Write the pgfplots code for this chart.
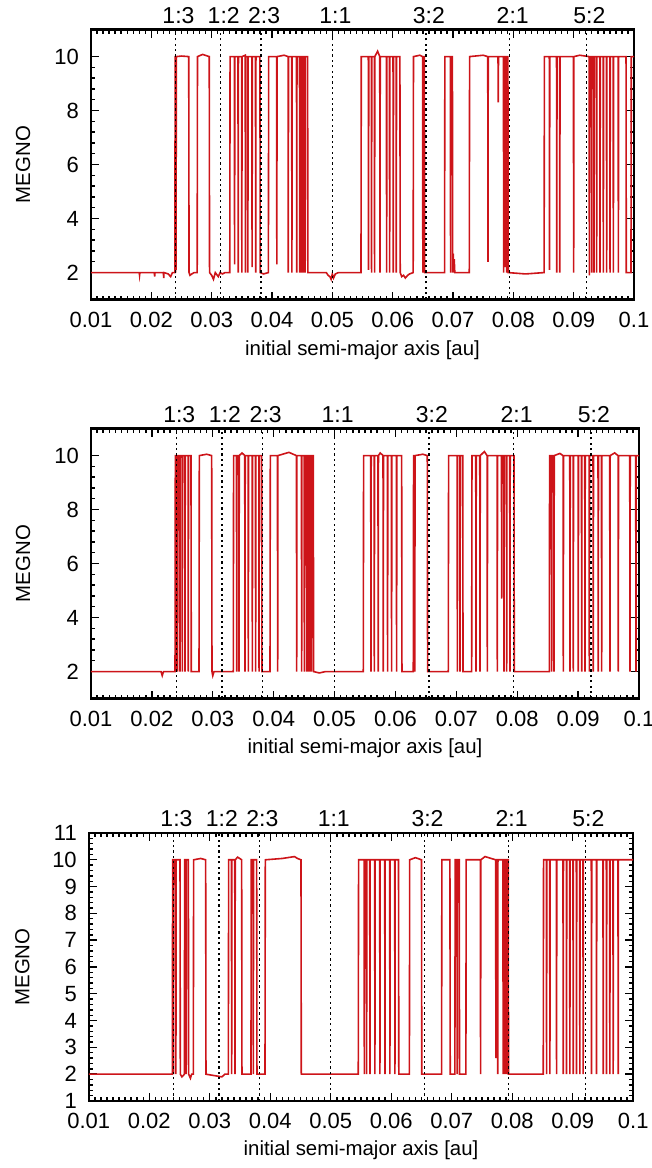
\documentclass[border=0pt]{standalone}
\usepackage{fontspec}
\setmainfont{Liberation Sans}
\usepackage{pgfplots}
\usepackage{pgfplotstable}
\pgfplotsset{compat=1.18}
\definecolor{megred}{RGB}{205,20,25}

\pgfplotstableread{
x y
0.01000 2.00
0.01500 2.00
0.01800 2.00
0.01805 1.90
0.01810 2.00
0.02050 2.00
0.02055 1.85
0.02060 2.00
0.02200 2.00
0.02205 1.80
0.02210 2.00
0.02280 1.95
0.02320 1.85
0.02350 2.00
0.02390 2.00
0.02395 10.00
0.02396 10.00
0.02400 2.00
0.02404 10.00
0.02406 10.00
0.02410 2.10
0.02414 10.00
0.02500 10.02
0.02620 10.00
0.02625 2.00
0.02640 1.90
0.02670 1.95
0.02710 2.00
0.02760 2.00
0.02765 10.00
0.02850 10.08
0.02960 10.00
0.02965 2.00
0.03000 1.90
0.03030 1.75
0.03060 2.00
0.03110 1.85
0.03140 2.00
0.03180 1.95
0.03220 2.00
0.03300 2.00
0.03305 10.00
0.03376 10.00
0.03380 2.30
0.03384 10.00
0.03436 10.00
0.03440 2.00
0.03444 10.00
0.03496 10.00
0.03500 2.00
0.03504 10.00
0.03556 10.05
0.03560 2.00
0.03564 10.00
0.03596 10.00
0.03600 2.00
0.03604 10.00
0.03666 10.00
0.03670 2.20
0.03674 10.00
0.03726 10.00
0.03730 2.00
0.03734 10.00
0.03800 10.00
0.03805 2.00
0.03860 1.95
0.03940 2.00
0.03945 10.00
0.04076 10.00
0.04080 2.30
0.04084 10.00
0.04200 10.05
0.04266 10.00
0.04270 2.00
0.04274 10.00
0.04326 10.00
0.04330 2.00
0.04334 10.00
0.04406 10.00
0.04410 2.00
0.04414 10.00
0.04456 10.00
0.04460 2.00
0.04464 10.00
0.04486 10.00
0.04490 2.00
0.04494 10.00
0.04516 10.00
0.04520 2.00
0.04524 10.00
0.04546 10.00
0.04550 2.00
0.04554 10.00
0.04590 10.00
0.04595 2.00
0.04700 2.00
0.04900 2.00
0.04930 1.90
0.04960 1.85
0.04980 1.75
0.05000 1.95
0.05020 1.80
0.05050 1.95
0.05100 2.00
0.05475 2.00
0.05480 10.00
0.05596 10.00
0.05600 2.10
0.05604 10.00
0.05646 10.00
0.05650 2.00
0.05654 10.00
0.05696 10.00
0.05700 2.00
0.05704 10.00
0.05750 10.20
0.05786 10.00
0.05790 2.00
0.05794 10.00
0.05896 10.00
0.05900 2.00
0.05904 10.00
0.05946 10.00
0.05950 2.00
0.05954 10.00
0.06006 10.00
0.06010 2.00
0.06014 10.00
0.06056 10.00
0.06060 2.00
0.06064 10.00
0.06120 10.00
0.06125 2.00
0.06150 1.85
0.06180 1.90
0.06210 1.80
0.06250 1.90
0.06280 1.95
0.06340 2.00
0.06345 10.00
0.06450 10.05
0.06496 10.00
0.06500 2.00
0.06504 10.00
0.06525 10.00
0.06530 2.00
0.06860 2.00
0.06865 10.00
0.06956 10.00
0.06960 2.00
0.06964 10.00
0.06990 10.00
0.06995 2.00
0.07005 2.70
0.07010 2.00
0.07020 2.50
0.07030 2.00
0.07270 2.00
0.07275 10.00
0.07500 10.05
0.07576 10.00
0.07580 2.40
0.07584 10.00
0.07746 10.00
0.07750 8.30
0.07754 10.00
0.07836 10.00
0.07840 2.00
0.07844 10.00
0.07866 10.00
0.07870 2.20
0.07874 10.00
0.07886 10.00
0.07890 2.00
0.07894 10.00
0.07910 10.00
0.07915 2.00
0.08200 1.95
0.08510 2.00
0.08515 10.00
0.08596 10.00
0.08600 2.10
0.08604 10.00
0.08716 10.00
0.08720 2.00
0.08724 10.00
0.08766 10.00
0.08770 2.00
0.08774 10.00
0.08996 10.00
0.09000 2.00
0.09004 10.00
0.09100 10.05
0.09256 10.00
0.09260 1.90
0.09264 10.00
0.09295 10.00
0.09299 2.00
0.09303 10.00
0.09333 10.00
0.09337 2.00
0.09341 10.00
0.09377 10.00
0.09381 2.00
0.09385 10.00
0.09433 10.00
0.09437 2.00
0.09441 10.00
0.09488 10.00
0.09492 2.00
0.09496 10.00
0.09543 10.00
0.09547 2.00
0.09551 10.00
0.09599 10.00
0.09603 2.00
0.09607 10.00
0.09654 10.00
0.09658 2.00
0.09662 10.00
0.09737 10.00
0.09741 2.00
0.09745 10.00
0.09868 10.00
0.09872 2.00
0.09950 2.00
0.09955 10.00
0.10000 10.00
}\dataA

\pgfplotstableread{
x y
0.01000 2.00
0.02150 2.00
0.02170 1.85
0.02190 2.00
0.02380 2.00
0.02385 10.00
0.02396 10.00
0.02400 2.00
0.02404 10.00
0.02419 10.00
0.02423 2.00
0.02427 10.00
0.02457 10.00
0.02461 2.00
0.02465 10.00
0.02496 10.00
0.02500 2.00
0.02504 10.00
0.02540 10.00
0.02544 2.00
0.02548 10.00
0.02594 10.00
0.02598 2.00
0.02602 10.00
0.02642 10.00
0.02647 2.00
0.02774 2.00
0.02779 10.00
0.02900 10.05
0.02982 10.00
0.02987 2.00
0.03000 1.85
0.03020 2.00
0.03337 2.00
0.03342 10.00
0.03389 10.00
0.03393 2.00
0.03397 10.00
0.03427 10.00
0.03431 2.00
0.03435 10.00
0.03480 10.10
0.03525 10.00
0.03529 2.00
0.03533 10.00
0.03580 10.00
0.03584 2.00
0.03588 10.00
0.03646 10.00
0.03650 2.00
0.03654 10.00
0.03700 10.00
0.03704 2.00
0.03708 10.00
0.03756 10.00
0.03760 2.00
0.03764 10.00
0.03803 10.00
0.03808 2.00
0.03940 2.00
0.03945 10.00
0.04062 10.00
0.04066 2.00
0.04070 10.00
0.04250 10.12
0.04374 10.00
0.04378 2.00
0.04382 10.00
0.04456 10.00
0.04460 2.00
0.04464 10.00
0.04500 10.00
0.04504 2.00
0.04508 10.00
0.04538 10.00
0.04542 2.00
0.04546 10.00
0.04566 10.00
0.04570 2.00
0.04574 10.00
0.04593 10.00
0.04597 2.00
0.04601 10.00
0.04620 10.00
0.04624 2.00
0.04628 10.00
0.04651 10.00
0.04656 2.00
0.04750 1.95
0.04850 2.00
0.05472 2.00
0.05477 10.00
0.05594 10.00
0.05598 2.00
0.05602 10.00
0.05649 10.00
0.05653 2.00
0.05657 10.00
0.05713 10.00
0.05717 2.00
0.05721 10.00
0.05750 10.10
0.05796 10.00
0.05800 2.00
0.05804 10.00
0.05867 10.00
0.05871 2.00
0.05875 10.00
0.05933 10.00
0.05937 2.00
0.05941 10.00
0.06015 10.00
0.06019 2.00
0.06023 10.00
0.06102 10.00
0.06107 2.00
0.06293 2.00
0.06298 10.00
0.06314 10.00
0.06318 2.00
0.06322 10.00
0.06450 10.05
0.06523 10.00
0.06528 2.00
0.06868 2.00
0.06873 10.00
0.07013 10.00
0.07017 2.00
0.07021 10.00
0.07057 10.00
0.07061 2.00
0.07065 10.00
0.07105 10.00
0.07110 2.00
0.07252 2.00
0.07257 10.00
0.07319 10.00
0.07323 2.00
0.07327 10.00
0.07385 10.00
0.07389 2.00
0.07393 10.00
0.07460 10.15
0.07505 10.00
0.07509 2.00
0.07513 10.00
0.07669 10.00
0.07673 2.00
0.07677 10.00
0.07741 10.00
0.07745 4.70
0.07749 10.00
0.07779 10.00
0.07783 2.00
0.07787 10.00
0.07823 10.00
0.07827 2.00
0.07831 10.00
0.07877 10.00
0.07881 2.00
0.07885 10.00
0.07947 10.00
0.07952 2.00
0.08527 2.00
0.08532 10.00
0.08562 10.00
0.08566 2.00
0.08570 10.00
0.08600 10.00
0.08604 2.00
0.08608 10.00
0.08700 10.08
0.08753 10.00
0.08757 2.00
0.08761 10.00
0.08863 10.00
0.08867 2.00
0.08871 10.00
0.08917 10.00
0.08921 2.00
0.08925 10.00
0.08999 10.00
0.09003 2.00
0.09007 10.00
0.09055 10.00
0.09059 2.00
0.09063 10.00
0.09109 10.00
0.09113 2.00
0.09117 10.00
0.09180 10.00
0.09184 2.00
0.09188 10.00
0.09245 10.00
0.09249 2.00
0.09253 10.00
0.09327 10.00
0.09331 2.00
0.09335 10.00
0.09383 10.00
0.09387 2.00
0.09391 10.00
0.09519 10.00
0.09523 2.00
0.09527 10.00
0.09600 10.10
0.09656 10.00
0.09660 2.00
0.09664 10.00
0.09848 10.00
0.09852 2.00
0.09856 10.00
0.09946 10.00
0.09950 2.00
0.09954 10.00
0.10000 10.00
}\dataB

\pgfplotstableread{
x y
0.01000 2.00
0.02381 2.00
0.02386 10.00
0.02396 10.00
0.02400 2.00
0.02404 10.00
0.02436 10.00
0.02440 2.00
0.02444 10.00
0.02508 10.00
0.02513 2.00
0.02540 1.90
0.02580 2.00
0.02585 10.00
0.02606 10.00
0.02610 2.00
0.02614 10.00
0.02646 10.00
0.02651 2.00
0.02680 1.85
0.02700 2.00
0.02728 2.00
0.02733 10.00
0.02850 10.05
0.02932 10.00
0.02937 2.00
0.03200 1.90
0.03250 2.00
0.03307 2.00
0.03312 10.00
0.03358 10.00
0.03362 2.00
0.03366 10.00
0.03413 10.00
0.03417 2.00
0.03421 10.00
0.03460 10.10
0.03527 10.00
0.03532 2.00
0.03681 2.00
0.03686 10.00
0.03716 10.00
0.03720 2.00
0.03724 10.00
0.03775 10.00
0.03780 2.00
0.03913 2.00
0.03918 10.00
0.04200 10.05
0.04400 10.12
0.04450 10.05
0.04508 10.00
0.04513 2.00
0.05455 2.00
0.05460 10.00
0.05551 10.00
0.05555 2.00
0.05559 10.00
0.05589 10.00
0.05593 2.00
0.05597 10.00
0.05644 10.00
0.05648 2.00
0.05652 10.00
0.05726 10.00
0.05730 2.00
0.05734 10.00
0.05809 10.00
0.05813 2.00
0.05817 10.00
0.05892 10.00
0.05896 2.00
0.05900 10.00
0.05974 10.00
0.05978 2.00
0.05982 10.00
0.06057 10.00
0.06061 2.00
0.06065 10.00
0.06120 10.00
0.06125 2.00
0.06300 2.00
0.06305 10.00
0.06400 10.08
0.06500 10.00
0.06505 2.00
0.06832 2.00
0.06837 10.00
0.06970 10.00
0.06975 2.00
0.07052 2.00
0.07057 10.00
0.07086 10.00
0.07090 2.00
0.07094 10.00
0.07124 10.00
0.07129 2.00
0.07234 2.00
0.07239 10.00
0.07473 10.00
0.07477 2.00
0.07481 10.00
0.07550 10.12
0.07726 10.00
0.07730 2.60
0.07734 10.00
0.07756 10.00
0.07760 2.00
0.07764 10.00
0.07846 10.00
0.07850 2.00
0.07854 10.00
0.07876 10.00
0.07880 2.00
0.07884 10.00
0.07896 10.00
0.07900 2.00
0.07904 10.00
0.07916 10.00
0.07920 2.00
0.07924 10.00
0.07934 10.00
0.07939 2.00
0.08513 2.00
0.08518 10.00
0.08564 10.00
0.08568 2.00
0.08572 10.00
0.08619 10.00
0.08623 2.00
0.08627 10.00
0.08729 10.00
0.08733 2.00
0.08737 10.00
0.08839 10.00
0.08843 2.00
0.08847 10.00
0.08894 10.00
0.08898 2.00
0.08902 10.00
0.08949 10.00
0.08953 2.00
0.08957 10.00
0.09004 10.00
0.09008 2.00
0.09012 10.00
0.09059 10.00
0.09063 2.00
0.09067 10.00
0.09114 10.00
0.09118 2.00
0.09122 10.00
0.09169 10.00
0.09173 2.00
0.09177 10.00
0.09307 10.00
0.09311 2.00
0.09315 10.00
0.09390 10.00
0.09394 2.00
0.09398 10.00
0.09500 10.00
0.09504 2.00
0.09508 10.00
0.09555 10.00
0.09559 2.00
0.09563 10.00
0.09610 10.00
0.09614 2.00
0.09618 10.00
0.09665 10.00
0.09669 2.00
0.09673 10.00
0.09748 10.00
0.09752 2.00
0.09756 10.00
0.10000 10.00
}\dataC

\pgfplotsset{
  megno/.style={
    scale only axis,
    xmin=0.01, xmax=0.1, ymin=1, ymax=11,
    xtick={0.01,0.02,0.03,0.04,0.05,0.06,0.07,0.08,0.09,0.1},
    xticklabels={0.01,0.02,0.03,0.04,0.05,0.06,0.07,0.08,0.09,0.1},
    minor x tick num=9,
    minor y tick num=4,
    tick align=inside,
    major tick length=4pt,
    minor tick length=2pt,
    axis line style={line width=1.1pt},
    every tick/.style={black, line width=0.7pt},
    /pgf/number format/assume math mode=true,
    tick label style={font=\fontsize{11}{13}\selectfont},
    xticklabel style={yshift=-2.5pt},
    yticklabel style={xshift=-2.5pt},
    label style={font=\fontsize{10.2}{12}\selectfont},
    xlabel={initial semi-major axis [au]},
    ylabel={MEGNO},
    clip mode=individual,
  },
}

\newcommand{\reslines}{%
  \foreach \xx/\lab in {0.0240/1:3,0.0315/1:2,0.0382/2:3,0.0500/1:1,0.0655/3:2,0.0794/2:1,0.0921/5:2}{%
    \edef\temp{\noexpand\addplot[black, line width=0.7pt, dash pattern=on 1.1pt off 1.6pt, forget plot] coordinates {(\xx,1) (\xx,11)};
      \noexpand\node[anchor=base, inner sep=0pt, font=\noexpand\fontsize{11.5}{13}\noexpand\selectfont] at (axis cs:\xx,11) [yshift=3pt, xshift=1.5pt] {\lab};}%
    \temp
  }%
}

\begin{document}
\begin{tikzpicture}
\useasboundingbox (0,0) rectangle (326pt,584pt);

\begin{axis}[megno,
  at={(45.5pt,434.2pt)}, anchor=south west,
  width=271.5pt, height=135pt,
  ytick={2,4,6,8,10},
  xlabel style={at={(axis description cs:0.5,-0.186)}, anchor=center},
  ylabel style={at={(axis description cs:-0.125,0.5)}, anchor=center},
]
\addplot[megred, line width=0.8pt] table[x=x,y=y] {\dataA};
\reslines
\end{axis}

\begin{axis}[megno,
  at={(45.5pt,234.7pt)}, anchor=south west,
  width=274pt, height=135pt,
  ytick={2,4,6,8,10},
  xlabel style={at={(axis description cs:0.5,-0.182)}, anchor=center},
  ylabel style={at={(axis description cs:-0.124,0.5)}, anchor=center},
]
\addplot[megred, line width=0.8pt] table[x=x,y=y] {\dataB};
\reslines
\end{axis}

\begin{axis}[megno,
  at={(44.4pt,33.5pt)}, anchor=south west,
  width=272.2pt, height=134pt,
  ytick={1,2,3,4,5,6,7,8,9,10,11},
  xlabel style={at={(axis description cs:0.5,-0.182)}, anchor=center},
  ylabel style={at={(axis description cs:-0.122,0.5)}, anchor=center},
]
\addplot[megred, line width=0.8pt] table[x=x,y=y] {\dataC};
\reslines
\end{axis}
\end{tikzpicture}
\end{document}
